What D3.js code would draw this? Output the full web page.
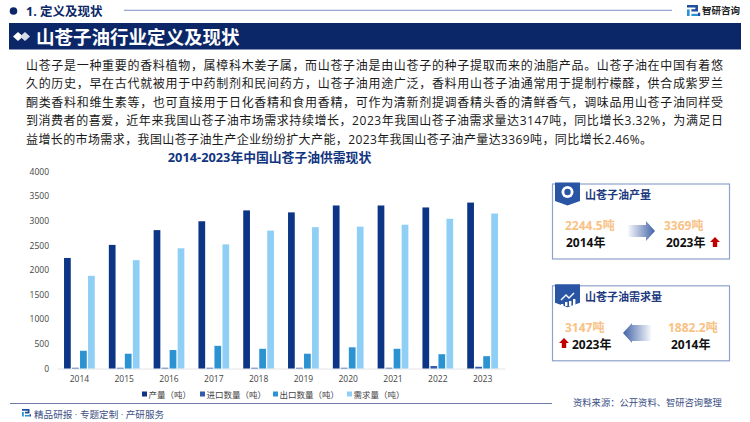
<!DOCTYPE html>
<html><head><meta charset="utf-8">
<script src="https://cdn.jsdelivr.net/npm/d3@7/dist/d3.min.js"></script>
<style>
html,body{margin:0;padding:0;background:#fff;overflow:hidden}
svg{display:block}
text{font-family:"Open Sans","Noto Sans CJK SC",sans-serif}
</style></head><body>
<svg id="c" width="750" height="422"></svg>
<script>
const years = ["2014","2015","2016","2017","2018","2019","2020","2021","2022","2023"];
const seriesNames = ["产量（吨）","进口数量（吨）","出口数量（吨）","需求量（吨）"];
const seriesColors = ["#0d3585","#2f5cae","#2c93d2","#90cff5"];
const production = [2244.5,2510,2810,2990,3210,3170,3310,3310,3270,3369];
const imports = [15,15,15,15,15,15,15,15,50,35];
const exportsQty = [360,300,375,460,400,300,430,400,290,250];
const demand = [1882.2,2200,2440,2520,2800,2870,2880,2920,3040,3147];
const yTicks = [0,500,1000,1500,2000,2500,3000,3500,4000];
const paragraph = [
 "山苍子是一种重要的香料植物，属樟科木姜子属，而山苍子油是由山苍子的种子提取而来的油脂产品。山苍子油在中国有着悠",
 "久的历史，早在古代就被用于中药制剂和民间药方，山苍子油用途广泛，香料用山苍子油通常用于提制柠檬醛，供合成紫罗兰",
 "酮类香料和维生素等，也可直接用于日化香精和食用香精，可作为清新剂提调香精头香的清鲜香气，调味品用山苍子油同样受",
 "到消费者的喜爱，近年来我国山苍子油市场需求持续增长，2023年我国山苍子油需求量达3147吨，同比增长3.32%，为满足日",
 "益增长的市场需求，我国山苍子油生产企业纷纷扩大产能，2023年我国山苍子油产量达3369吨，同比增长2.46%。"
];
const paragraphY = [65,83.5,102,120.5,139];
const paragraphW = [697,697,697,697,626];
const seriesValues = [production,imports,exportsQty,demand];

const svg = d3.select("#c");
const defs = svg.append("defs");
function grad(id,x1,x2){
  const g = defs.append("linearGradient").attr("id",id).attr("x1",x1).attr("x2",x2).attr("y1",0).attr("y2",0);
  g.append("stop").attr("offset",0).attr("stop-color","#3f62a6").attr("stop-opacity",0.04);
  g.append("stop").attr("offset",1).attr("stop-color","#3f62a6");
}
grad("gr",0,1); grad("gl",1,0);
function txt(x,y,s,size,fill,weight,anchor){
  return svg.append("text").attr("x",x).attr("y",y).attr("font-size",size).attr("fill",fill)
    .attr("font-weight",weight||400).attr("text-anchor",anchor||"start").attr("dominant-baseline","central").text(s);
}
function logo(x,y,s){
  const g = svg.append("g").attr("transform",`translate(${x},${y}) scale(${s})`);
  g.append("path").attr("d","M0 0H10V6H4V3.8H7.6V2.2H0Z").attr("fill","#1f4f9c");
  g.append("path").attr("d","M0 4H2.4V10H0Z").attr("fill","#2c93d2");
  g.append("path").attr("d","M4 8H10V10H4Z").attr("fill","#2c93d2");
  g.append("path").attr("d","M10 7H12V10H10Z").attr("fill","#1f4f9c");
}

// header
svg.append("circle").attr("cx",13.5).attr("cy",11).attr("r",3.8).attr("fill","#0c2768");
txt(26,11,"1. 定义及现状",12.5,"#0c2768",700);
svg.append("rect").attr("x",124).attr("y",9.7).attr("width",548).attr("height",1.3).attr("fill","#98a8cf");
logo(687,5,1.1);
txt(702,10.5,"智研咨询",9.5,"#222",700);
svg.append("rect").attr("x",9).attr("y",23).attr("width",732).attr("height",26.5).attr("fill","#0c2768");
svg.append("path").attr("d","M13 36.5L18 32L23 36.5L18 41Z").attr("fill","#fff");
svg.append("path").attr("d","M20 36.5L25 32L30 36.5L25 41Z").attr("fill","#d7dcea");
txt(36,36,"山苍子油行业定义及现状",18.5,"#fff",700);

// paragraph
svg.append("g").selectAll("text").data(paragraph).join("text")
  .attr("x",26).attr("y",(d,i)=>paragraphY[i])
  .attr("font-size",12).attr("fill","#1a1a1a").attr("dominant-baseline","central")
  .attr("textLength",(d,i)=>paragraphW[i]).attr("lengthAdjust","spacing")
  .text(d=>d);

// chart
txt(269.5,157,"2014-2023年中国山苍子油供需现状",12.8,"#123580",700,"middle");
const x0 = d3.scaleBand().domain(years).range([57,505]).paddingInner(0.314).paddingOuter(0.157);
const x1 = d3.scaleBand().domain(d3.range(4)).range([0,x0.bandwidth()]).paddingInner(0.16);
const xAxisBand = d3.scaleBand().domain(years).range([57,505]);
const y = d3.scaleLinear().domain([0,4000]).range([368.5,171.5]);

const gy = svg.append("g").attr("transform","translate(52,0)")
  .call(d3.axisLeft(y).tickValues(yTicks).tickSize(0).tickPadding(3).tickFormat(d3.format("d")));
gy.select(".domain").remove();
gy.selectAll("text").attr("font-size",8.5).attr("fill","#444").style("font-family",'"Open Sans",sans-serif');

const gx = svg.append("g").attr("transform","translate(0,368.5)")
  .call(d3.axisBottom(xAxisBand).tickSize(0).tickPadding(7));
gx.select(".domain").attr("stroke","#e4e4e4").attr("stroke-width",1);
gx.selectAll("text").attr("font-size",8.5).attr("fill","#444").style("font-family",'"Open Sans",sans-serif');

svg.append("g").selectAll("g").data(seriesValues).join("g")
  .attr("fill",(d,i)=>seriesColors[i])
  .each(function(vals,i){
    d3.select(this).selectAll("rect").data(vals).join("rect")
      .attr("x",(v,j)=>x0(years[j])+x1(i))
      .attr("width",x1.bandwidth())
      .attr("y",v=>y(v))
      .attr("height",v=>y(0)-y(v));
  });

// legend
const legX = [142,200,273,347];
seriesNames.forEach((n,i)=>{
  svg.append("rect").attr("x",legX[i]).attr("y",391.5).attr("width",5).attr("height",5).attr("fill",seriesColors[i]);
  txt(legX[i]+6.5,394,n,8.5,"#444");
});

// cards
function ribbon(x,y){
  svg.append("path").attr("d",`M${x} ${y}H${x+25}V${y+18.5}L${x+12.5} ${y+23}L${x} ${y+18.5}Z`).attr("fill","#2a55a5");
}
function card(y,title,tw){
  svg.append("rect").attr("x",552.5).attr("y",y).attr("width",177).attr("height",75).attr("fill","#fff").attr("stroke","#8ea2cb").attr("stroke-width",1.2);
  ribbon(555,y-1.5);
  txt(585,y+10.5,title,tw,"#1d3a80",700);
}
card(184,"山苍子油产量",11);
svg.append("circle").attr("cx",567.5).attr("cy",192).attr("r",6).attr("fill","#fff");
svg.append("circle").attr("cx",567.5).attr("cy",192).attr("r",3.2).attr("fill","#2a55a5");
card(285.8,"山苍子油需求量",11);
svg.append("path").attr("d","M561 300L566 295L569 298L574 293").attr("fill","none").attr("stroke","#fff").attr("stroke-width",1.4);
[[561,2],[565,4],[569,5],[573,7]].forEach(d=>svg.append("rect").attr("x",d[0]).attr("y",306-d[1]).attr("width",2.4).attr("height",d[1]).attr("fill","#fff"));

const valStyle = [12,"#f9c285",700];
txt(565,225,"2244.5吨",...valStyle);
txt(566,242,"2014年",12,"#111",700);
txt(664,225,"3369吨",...valStyle);
txt(666,242,"2023年",12,"#111",700);
txt(565,327,"3147吨",...valStyle);
txt(572,344,"2023年",12,"#111",700);
txt(668,327,"1882.2吨",...valStyle);
txt(671,344,"2014年",12,"#111",700);

svg.append("path").attr("d","M628 225H646V221L655 231L646 241V237H628Z").attr("fill","url(#gr)");
svg.append("path").attr("d","M651 325H632V323L623 333L632 343V341H651Z").attr("fill","url(#gl)");
function up(x,y){
  svg.append("path").attr("d",`M${x} ${y+5}L${x+5} ${y}L${x+10} ${y+5}H${x+7.2}V${y+10}H${x+2.8}V${y+5}Z`).attr("fill","#c00000");
}
up(710,237); up(559,338);

// footer
svg.append("rect").attr("x",10).attr("y",403).attr("width",542).attr("height",1).attr("fill","#6f7cab");
logo(22,409,0.75);
txt(34,414,"精品研报 · 专题定制 · 产研服务",9.6,"#3d4f85");
txt(573,402.5,"资料来源：公开资料、智研咨询整理",9.3,"#3d4f85");
</script>
</body></html>
